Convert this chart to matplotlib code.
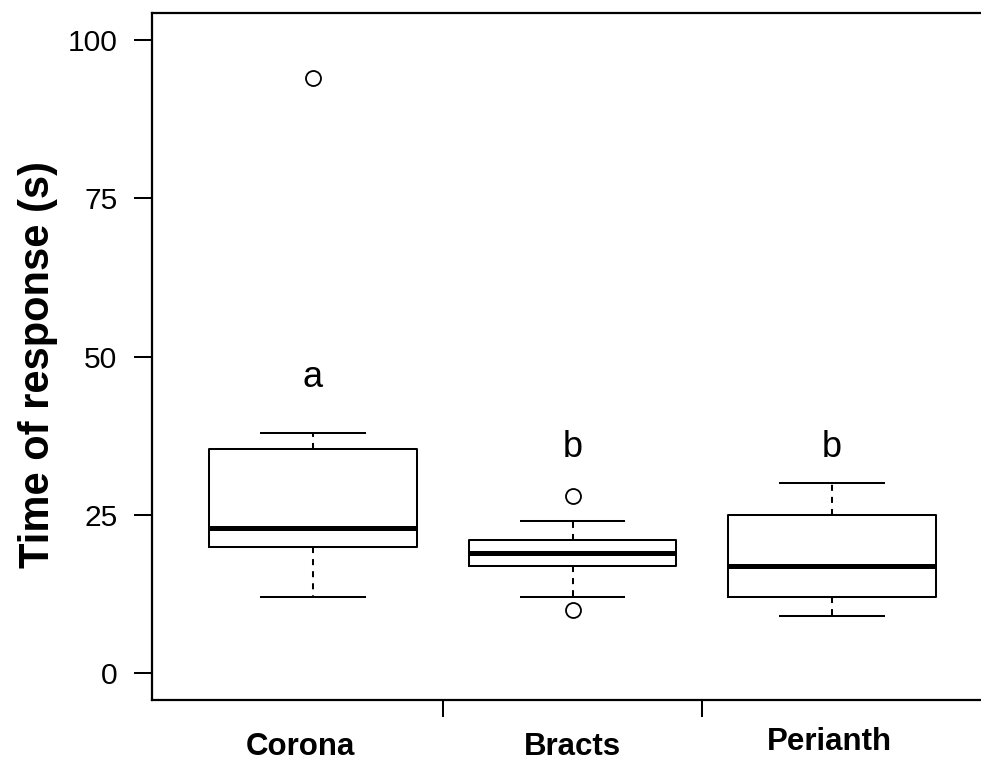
import matplotlib
matplotlib.use("Agg")
import matplotlib.pyplot as plt
from matplotlib.transforms import blended_transform_factory

plt.rcParams['font.family'] = ['Liberation Sans', 'DejaVu Sans']

# ---- data ----
categories = ["Corona", "Bracts", "Perianth"]
whisker_low = [12, 12, 9]
q1 = [20, 17, 12]
median = [23, 19, 17]
q3 = [35.4, 21, 25]
whisker_high = [38, 24, 30]
outliers = [[94], [28, 10], []]
letters = ["a", "b", "b"]
letter_y = [45.2, 34.2, 34.2]
yticks = [0, 25, 50, 75, 100]
ylabel = "Time of response (s)"

# ---- figure ----
W, H = 981, 763
fig = plt.figure(figsize=(W / 100, H / 100), dpi=100)
ax = fig.add_axes([152 / W, (H - 700) / H, (993 - 152) / W, (700 - 13) / H])

stats = []
for i, c in enumerate(categories):
    stats.append(dict(label=c, med=median[i], q1=q1[i], q3=q3[i],
                      whislo=whisker_low[i], whishi=whisker_high[i],
                      fliers=outliers[i]))

pos = list(range(1, len(categories) + 1))
lw = 1.45
ax.bxp(stats, positions=pos, widths=0.8, capwidths=0.4,
       boxprops=dict(color="black", linewidth=lw),
       medianprops=dict(color="black", linewidth=3.6, solid_capstyle="butt"),
       whiskerprops=dict(color="black", linewidth=lw, linestyle=(0, (3, 3))),
       capprops=dict(color="black", linewidth=lw),
       flierprops=dict(marker="o", markerfacecolor="none", markeredgecolor="black",
                       markersize=10.8, markeredgewidth=1.3))

for i, t in enumerate(letters):
    ax.text(pos[i], letter_y[i], t, ha="center", va="baseline", fontsize=26)

ax.set_xlim(0.38, len(categories) + 0.62)
ax.set_ylim(-4.2, 104.2)
ax.set_yticks(yticks)
ax.set_yticklabels([str(v) for v in yticks], fontsize=21.6)
ax.tick_params(axis="y", length=13, width=1.45, pad=12)
ax.set_xticks([p + 0.5 for p in pos[:-1]])
ax.set_xticklabels([])
ax.tick_params(axis="x", length=12, width=1.45)
for s in ax.spines.values():
    s.set_linewidth(1.6)
ax.spines["right"].set_visible(False)

# category labels below the axis
trans = blended_transform_factory(ax.transData, fig.transFigure)
label_dx = [-0.05, 0.0, -0.01]
label_base_px = [755, 755, 750]
for i, c in enumerate(categories):
    ax.text(pos[i] + label_dx[i], (H - label_base_px[i]) / H, c, transform=trans,
            ha="center", va="baseline", fontsize=22.5, fontweight="bold")

ax.set_ylabel(ylabel, fontsize=30, fontweight="bold", labelpad=7, y=0.488)

fig.savefig("out.png", dpi=100)
